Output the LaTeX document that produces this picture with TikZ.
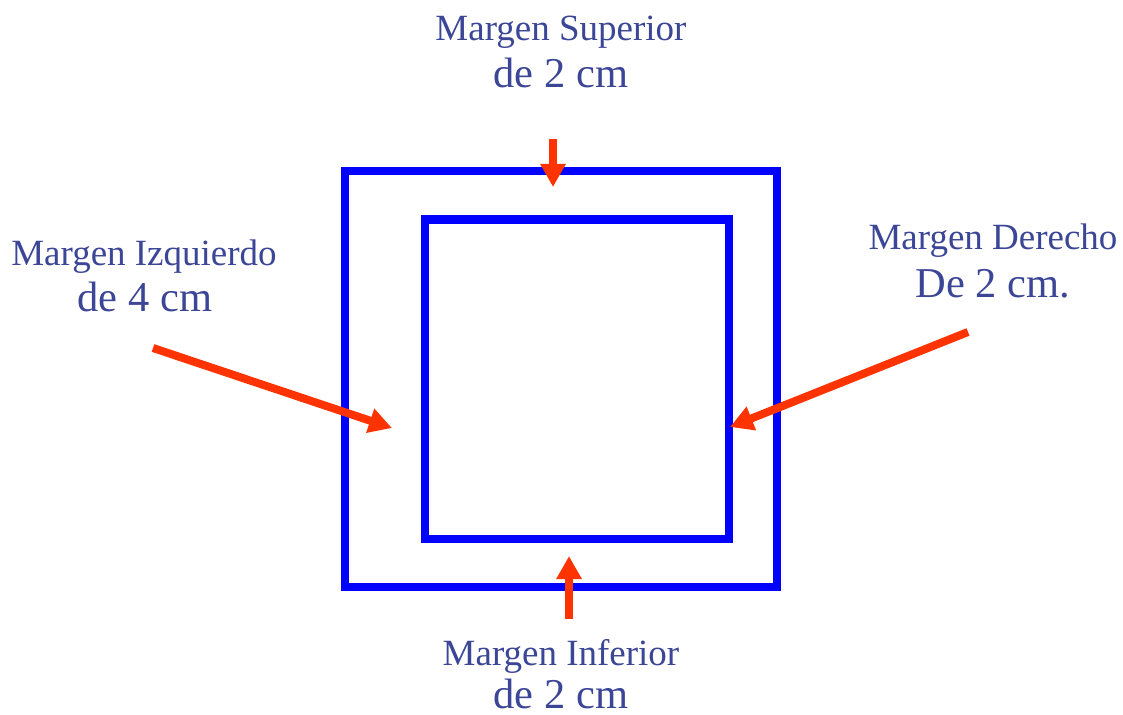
\documentclass[tikz,border=0pt]{standalone}
\usepackage{fontspec}
\setmainfont{Liberation Serif}
\usetikzlibrary{arrows.meta}
\definecolor{boxblue}{RGB}{0,0,255}
\definecolor{arrowred}{RGB}{255,51,0}
\definecolor{txtblue}{RGB}{60,70,150}
\tikzset{
  frame/.style={draw=boxblue, line width=8.5pt, line join=miter},
  marrow/.style={draw=arrowred, line width=8pt, -{Triangle[width=24pt,length=23pt]}},
  lineA/.style={text=txtblue, font=\fontsize{37}{40}\selectfont, anchor=base, inner sep=0pt},
  lineB/.style={text=txtblue, font=\fontsize{42.5}{46}\selectfont, anchor=base, inner sep=0pt, text depth=0pt}
}
\begin{document}
\begin{tikzpicture}[x=1pt,y=-1pt]
\useasboundingbox (0,0) rectangle (1123,714);
% boxes
\draw[frame] (345,171) rectangle (777,587);
\draw[frame] (425,219.5) rectangle (729,539);
% labels
\node[lineA] (supA) at (561,41) {Margen Superior};
\node[lineB] (supB) at (561,88) {de 2 cm};
\node[lineA] (izqA) at (144,265) {Margen Izquierdo};
\node[lineB] (izqB) at (145,311) {de 4 cm};
\node[lineA] (derA) at (993,249) {Margen Derecho};
\node[lineB] (derB) at (993,297) {De 2 cm.};
\node[lineA] (infA) at (561,665) {Margen Inferior};
\node[lineB] (infB) at (561,708) {de 2 cm};
% arrow coordinates
\coordinate (supS) at (553,139);
\coordinate (supT) at (553,187);
\coordinate (infS) at (569,619);
\coordinate (infT) at (569,556);
\coordinate (izqS) at (153,348);
\coordinate (izqT) at (392,428);
\coordinate (derS) at (968,332);
\coordinate (derT) at (730,427);
% arrows
\draw[marrow] (supS) -- (supT);
\draw[marrow] (infS) -- (infT);
\draw[marrow] (izqS) -- (izqT);
\draw[marrow] (derS) -- (derT);
\end{tikzpicture}
\end{document}
